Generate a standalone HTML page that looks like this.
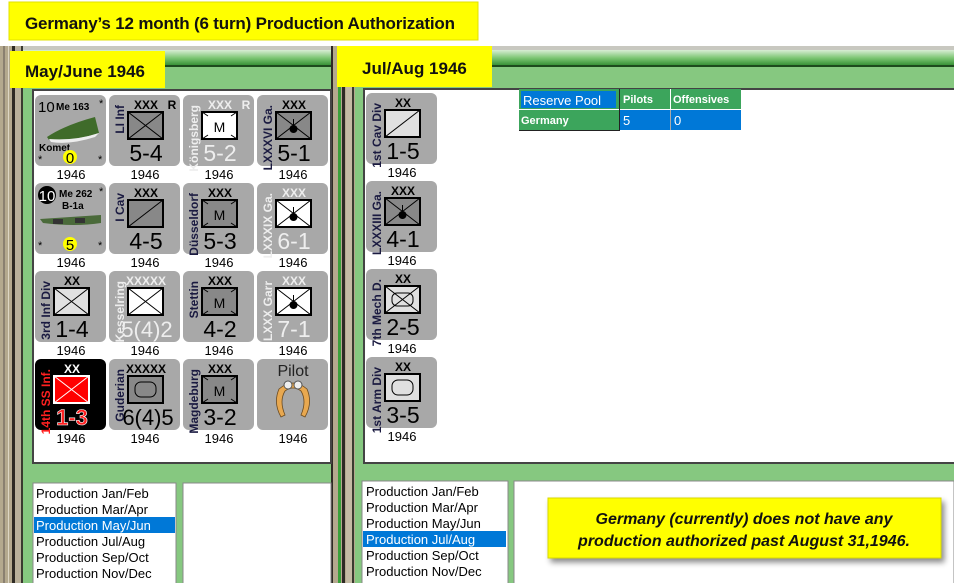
<!DOCTYPE html>
<html><head><meta charset="utf-8"><style>
html,body{margin:0;padding:0;background:#fff;width:954px;height:583px;overflow:hidden}
svg{display:block}
text{font-family:"Liberation Sans",sans-serif}
.vl{font-size:12px}
</style></head><body>
<svg width="954" height="583" viewBox="0 0 954 583" xmlns="http://www.w3.org/2000/svg">
<defs>
<linearGradient id="tb" x1="0" y1="0" x2="0" y2="1">
<stop offset="0" stop-color="#d8eed4"/><stop offset="0.5" stop-color="#7cc673"/><stop offset="1" stop-color="#2f8a2f"/>
</linearGradient>
<filter id="sh" x="-5%" y="-10%" width="115%" height="140%"><feDropShadow dx="3" dy="4" stdDeviation="3" flood-color="#000" flood-opacity="0.45"/></filter>
</defs>
<rect width="954" height="583" fill="#fff"/>
<rect x="0" y="46" width="954" height="537" fill="#86c880"/>
<rect x="0" y="46" width="954" height="6" fill="#c8c8c0"/>
<rect x="0" y="50" width="954" height="16" fill="url(#tb)"/>
<rect x="0" y="65" width="954" height="2" fill="#1d4a1d"/>
<rect x="0" y="46" width="12" height="537" fill="#b4a98e"/>
<rect x="3" y="46" width="2" height="537" fill="#8a8070"/>
<rect x="8" y="46" width="1" height="537" fill="#ddd6c4"/>
<rect x="12" y="46" width="3" height="537" fill="#2e2a24"/>
<rect x="15" y="46" width="6" height="537" fill="#b9b09a"/>
<rect x="21" y="46" width="2" height="537" fill="#3a3a30"/>
<rect x="23" y="66" width="9" height="517" fill="#86c880"/>
<rect x="331" y="46" width="32" height="537" fill="#b4a98e"/>
<rect x="331" y="46" width="2" height="537" fill="#2e2a24"/>
<rect x="338" y="46" width="3" height="537" fill="#3aa03a"/>
<rect x="342" y="46" width="3" height="537" fill="#2e2a24"/>
<rect x="346" y="46" width="6" height="537" fill="#c4bba4"/>
<rect x="352" y="46" width="2" height="537" fill="#3a3a30"/>
<rect x="355" y="66" width="8" height="517" fill="#86c880"/>
<rect x="33" y="90" width="298" height="373" fill="#fff" stroke="#444" stroke-width="2"/>
<rect x="364" y="89" width="592" height="374" fill="#fff" stroke="#444" stroke-width="2"/>
<rect x="33" y="483" width="143" height="101" fill="#fff" stroke="#888"/>
<rect x="183" y="483" width="148" height="101" fill="#fff" stroke="#888"/>
<rect x="362" y="481" width="146" height="103" fill="#fff" stroke="#888"/>
<rect x="514" y="481" width="440" height="103" fill="#fff" stroke="#888"/>
<rect x="34" y="517" width="141" height="16" fill="#0078d7"/>
<g font-size="13" fill="#000">
<text x="36" y="498">Production Jan/Feb</text>
<text x="36" y="514">Production Mar/Apr</text>
<text x="36" y="530" fill="#fff">Production May/Jun</text>
<text x="36" y="546">Production Jul/Aug</text>
<text x="36" y="562">Production Sep/Oct</text>
<text x="36" y="578">Production Nov/Dec</text>
</g>
<rect x="363" y="531" width="143" height="16" fill="#0078d7"/>
<g font-size="13" fill="#000">
<text x="366" y="496">Production Jan/Feb</text>
<text x="366" y="512">Production Mar/Apr</text>
<text x="366" y="528">Production May/Jun</text>
<text x="366" y="544" fill="#fff">Production Jul/Aug</text>
<text x="366" y="560">Production Sep/Oct</text>
<text x="366" y="576">Production Nov/Dec</text>
</g>
<rect x="548" y="498" width="393" height="60" fill="#ffff00" stroke="#d8d800" filter="url(#sh)"/>
<g font-size="16" font-weight="bold" font-style="italic" text-anchor="middle" fill="#111">
<text x="744" y="524">Germany (currently) does not have any</text>
<text x="744" y="546">production authorized past August 31,1946.</text>
</g>
<rect x="519" y="89" width="222" height="41" fill="#fff"/>
<rect x="519" y="89" width="100" height="20" fill="#3ca55c"/>
<rect x="521" y="91" width="95" height="17" fill="#0078d7"/>
<rect x="620" y="89" width="50" height="20" fill="#3ca55c"/>
<rect x="671" y="89" width="70" height="20" fill="#3ca55c"/>
<rect x="519" y="110" width="100" height="20" fill="#3ca55c"/>
<rect x="620" y="110" width="121" height="20" fill="#0078d7"/>
<line x1="670.5" y1="110" x2="670.5" y2="130" stroke="#aaa"/>
<line x1="619.5" y1="89" x2="619.5" y2="131" stroke="#222"/>
<line x1="519" y1="130.5" x2="620" y2="130.5" stroke="#222"/>
<text x="523" y="105" font-size="13" fill="#fff">Reserve Pool</text>
<g font-size="11" font-weight="bold" fill="#fff">
<text x="623" y="103">Pilots</text><text x="673" y="103">Offensives</text>
<text x="521" y="124">Germany</text>
</g>
<text x="623" y="125" font-size="13" fill="#fff">5</text>
<text x="674" y="125" font-size="13" fill="#fff">0</text>
<rect x="9" y="2" width="469" height="38" fill="#ffff00" stroke="#e0e000"/>
<text x="25" y="29" font-size="17" font-weight="bold" fill="#111" textLength="430">Germany’s 12 month (6 turn) Production Authorization</text>
<rect x="10" y="51" width="155" height="37" fill="#ffff00"/>
<text x="25" y="77" font-size="17" font-weight="bold" fill="#111">May/June 1946</text>
<rect x="337" y="46" width="155" height="41" fill="#ffff00"/>
<text x="362" y="74" font-size="17" font-weight="bold" fill="#111">Jul/Aug 1946</text>
<g font-size="13" text-anchor="middle" fill="#000">
<text x="71" y="179">1946</text><text x="145" y="179">1946</text><text x="219" y="179">1946</text><text x="293" y="179">1946</text>
<text x="71" y="267">1946</text><text x="145" y="267">1946</text><text x="219" y="267">1946</text><text x="293" y="267">1946</text>
<text x="71" y="355">1946</text><text x="145" y="355">1946</text><text x="219" y="355">1946</text><text x="293" y="355">1946</text>
<text x="71" y="443">1946</text><text x="145" y="443">1946</text><text x="219" y="443">1946</text><text x="293" y="443">1946</text>
<text x="402" y="177">1946</text><text x="402" y="265">1946</text><text x="402" y="353">1946</text><text x="402" y="441">1946</text>
</g>
<g transform="translate(35,95)">
<rect width="71" height="71" rx="6" fill="#a8a8a8"/>
<text x="3" y="17" font-size="15">10</text>
<text x="21" y="15" font-size="10" font-weight="bold">Me 163</text>
<text x="64" y="12" font-size="11">*</text>
<path d="M12 42 Q30 30 60 22 L64 38 Q40 46 14 45 Z" fill="#3f6b2a"/>
<path d="M14 44 Q40 46 64 38 L60 42 Q35 50 16 47Z" fill="#eee"/>
<text x="4" y="56" font-size="10" font-weight="bold">Komet</text>
<text x="3" y="68" font-size="11">*</text><text x="63" y="68" font-size="11">*</text>
<circle cx="35" cy="62" r="7" fill="#ffff00"/>
<text x="35" y="68" font-size="15" text-anchor="middle">0</text>
</g>
<g transform="translate(35,183)">
<rect width="71" height="71" rx="6" fill="#a8a8a8"/>
<circle cx="12" cy="12" r="9" fill="#000"/>
<text x="12" y="18" font-size="15" fill="#fff" text-anchor="middle">10</text>
<text x="24" y="14" font-size="10" font-weight="bold">Me 262</text>
<text x="27" y="26" font-size="10" font-weight="bold">B-1a</text>
<text x="64" y="12" font-size="11">*</text>
<path d="M5 36 L66 32 L66 40 Q40 44 8 40Z" fill="#4a6a3a"/>
<rect x="18" y="36" width="10" height="5" fill="#333"/><rect x="40" y="35" width="10" height="5" fill="#333"/>
<text x="3" y="66" font-size="11">*</text><text x="63" y="66" font-size="11">*</text>
<circle cx="35" cy="61" r="7" fill="#ffff00"/>
<text x="35" y="67" font-size="15" text-anchor="middle">5</text>
</g>
<g transform="translate(109,95)">
<rect width="71" height="71" rx="6" fill="#a8a8a8"/>
<text x="37" y="14" font-size="12" font-weight="bold" text-anchor="middle">XXX</text>
<text x="63" y="14" font-size="12" font-weight="bold" text-anchor="middle">R</text>
<rect x="19" y="17" width="35" height="27" fill="#888" stroke="#000" stroke-width="2"/>
<path d="M19 17L54 44M54 17L19 44" stroke="#000"/>
<text x="37" y="66" font-size="23" text-anchor="middle">5-4</text>
<text class="vl" transform="translate(15,10) rotate(-90)" font-weight="bold" text-anchor="end" fill="#1a1a40">LI Inf</text>
</g>
<g transform="translate(183,95)">
<rect width="71" height="71" rx="6" fill="#a8a8a8"/>
<text x="37" y="14" font-size="12" font-weight="bold" text-anchor="middle" fill="#eee">XXX</text>
<text x="63" y="14" font-size="12" font-weight="bold" text-anchor="middle" fill="#eee">R</text>
<rect x="19" y="17" width="35" height="27" fill="#fff" stroke="#000" stroke-width="2"/>
<path d="M19 17L25 21M54 17L48 21M19 44L25 40M54 44L48 40" stroke="#000"/>
<text x="36.5" y="37" font-size="14" text-anchor="middle">M</text>
<text x="37" y="66" font-size="23" text-anchor="middle" fill="#eee">5-2</text>
<text class="vl" transform="translate(15,10) rotate(-90)" font-weight="bold" text-anchor="end" fill="#eee">Königsberg</text>
</g>
<g transform="translate(257,95)">
<rect width="71" height="71" rx="6" fill="#a8a8a8"/>
<text x="37" y="14" font-size="12" font-weight="bold" text-anchor="middle">XXX</text>
<rect x="19" y="17" width="35" height="27" fill="#888" stroke="#000" stroke-width="2"/>
<path d="M19 17L54 44M54 17L19 44M36.5 24V34" stroke="#000"/>
<circle cx="36.5" cy="34" r="4"/>
<text x="37" y="66" font-size="23" text-anchor="middle">5-1</text>
<text class="vl" transform="translate(15,10) rotate(-90)" font-weight="bold" text-anchor="end" fill="#1a1a40">LXXXVI Ga.</text>
</g>
<g transform="translate(109,183)">
<rect width="71" height="71" rx="6" fill="#a8a8a8"/>
<text x="37" y="14" font-size="12" font-weight="bold" text-anchor="middle">XXX</text>
<rect x="19" y="17" width="35" height="27" fill="#888" stroke="#000" stroke-width="2"/>
<path d="M19 44L54 17" stroke="#000"/>
<text x="37" y="66" font-size="23" text-anchor="middle">4-5</text>
<text class="vl" transform="translate(15,10) rotate(-90)" font-weight="bold" text-anchor="end" fill="#1a1a40">I Cav</text>
</g>
<g transform="translate(183,183)">
<rect width="71" height="71" rx="6" fill="#a8a8a8"/>
<text x="37" y="14" font-size="12" font-weight="bold" text-anchor="middle">XXX</text>
<rect x="19" y="17" width="35" height="27" fill="#888" stroke="#000" stroke-width="2"/>
<path d="M19 17L25 21M54 17L48 21M19 44L25 40M54 44L48 40" stroke="#000"/>
<text x="36.5" y="37" font-size="14" text-anchor="middle">M</text>
<text x="37" y="66" font-size="23" text-anchor="middle">5-3</text>
<text class="vl" transform="translate(15,10) rotate(-90)" font-weight="bold" text-anchor="end" fill="#1a1a40">Düsseldorf</text>
</g>
<g transform="translate(257,183)">
<rect width="71" height="71" rx="6" fill="#a8a8a8"/>
<text x="37" y="14" font-size="12" font-weight="bold" text-anchor="middle" fill="#eee">XXX</text>
<rect x="19" y="17" width="35" height="27" fill="#fff" stroke="#000" stroke-width="2"/>
<path d="M19 17L54 44M54 17L19 44M36.5 24V34" stroke="#000"/>
<circle cx="36.5" cy="34" r="4"/>
<text x="37" y="66" font-size="23" text-anchor="middle" fill="#eee">6-1</text>
<text class="vl" transform="translate(15,10) rotate(-90)" font-weight="bold" text-anchor="end" fill="#eee">LXXXIX Ga.</text>
</g>
<g transform="translate(35,271)">
<rect width="71" height="71" rx="6" fill="#a8a8a8"/>
<text x="37" y="14" font-size="12" font-weight="bold" text-anchor="middle">XX</text>
<rect x="19" y="17" width="35" height="27" fill="#e0e0e0" stroke="#000" stroke-width="2"/>
<path d="M19 17L54 44M54 17L19 44" stroke="#000"/>
<text x="37" y="66" font-size="23" text-anchor="middle">1-4</text>
<text class="vl" transform="translate(15,10) rotate(-90)" font-weight="bold" text-anchor="end" fill="#1a1a40">3rd Inf Div</text>
</g>
<g transform="translate(109,271)">
<rect width="71" height="71" rx="6" fill="#a8a8a8"/>
<text x="37" y="14" font-size="12" font-weight="bold" text-anchor="middle" fill="#eee">XXXXX</text>
<rect x="19" y="17" width="35" height="27" fill="#fff" stroke="#000" stroke-width="2"/>
<path d="M19 17L54 44M54 17L19 44" stroke="#000"/>
<text x="38" y="66" font-size="22" text-anchor="middle" fill="#eee">5(4)2</text>
<text class="vl" transform="translate(15,10) rotate(-90)" font-weight="bold" text-anchor="end" fill="#eee">Kesselring</text>
</g>
<g transform="translate(183,271)">
<rect width="71" height="71" rx="6" fill="#a8a8a8"/>
<text x="37" y="14" font-size="12" font-weight="bold" text-anchor="middle">XXX</text>
<rect x="19" y="17" width="35" height="27" fill="#888" stroke="#000" stroke-width="2"/>
<path d="M19 17L25 21M54 17L48 21M19 44L25 40M54 44L48 40" stroke="#000"/>
<text x="36.5" y="37" font-size="14" text-anchor="middle">M</text>
<text x="37" y="66" font-size="23" text-anchor="middle">4-2</text>
<text class="vl" transform="translate(15,10) rotate(-90)" font-weight="bold" text-anchor="end" fill="#1a1a40">Stettin</text>
</g>
<g transform="translate(257,271)">
<rect width="71" height="71" rx="6" fill="#a8a8a8"/>
<text x="37" y="14" font-size="12" font-weight="bold" text-anchor="middle" fill="#eee">XXX</text>
<rect x="19" y="17" width="35" height="27" fill="#fff" stroke="#000" stroke-width="2"/>
<path d="M19 17L54 44M54 17L19 44M36.5 24V34" stroke="#000"/>
<circle cx="36.5" cy="34" r="4"/>
<text x="37" y="66" font-size="23" text-anchor="middle" fill="#eee">7-1</text>
<text class="vl" transform="translate(15,10) rotate(-90)" font-weight="bold" text-anchor="end" fill="#eee">LXXX Garr</text>
</g>
<g transform="translate(35,359)">
<rect width="71" height="71" rx="6" fill="#000"/>
<text x="37" y="14" font-size="12" font-weight="bold" text-anchor="middle" fill="#fff">XX</text>
<rect x="19" y="17" width="35" height="27" fill="#ff0000" stroke="#fff" stroke-width="2"/>
<path d="M19 17L54 44M54 17L19 44" stroke="#fff"/>
<text x="37" y="66" font-size="22" font-weight="bold" text-anchor="middle" fill="#ff2020" stroke="#fff" stroke-width="0.6">1-3</text>
<text class="vl" transform="translate(15,10) rotate(-90)" font-weight="bold" text-anchor="end" fill="#ff2020">14th SS Inf.</text>
</g>
<g transform="translate(109,359)">
<rect width="71" height="71" rx="6" fill="#a8a8a8"/>
<text x="37" y="14" font-size="12" font-weight="bold" text-anchor="middle">XXXXX</text>
<rect x="19" y="17" width="35" height="27" fill="#888" stroke="#000" stroke-width="2"/>
<rect x="26" y="23" width="21" height="15" rx="6" fill="none" stroke="#000"/>
<text x="39" y="66" font-size="22" text-anchor="middle">6(4)5</text>
<text class="vl" transform="translate(15,10) rotate(-90)" font-weight="bold" text-anchor="end" fill="#1a1a40">Guderian</text>
</g>
<g transform="translate(183,359)">
<rect width="71" height="71" rx="6" fill="#a8a8a8"/>
<text x="37" y="14" font-size="12" font-weight="bold" text-anchor="middle">XXX</text>
<rect x="19" y="17" width="35" height="27" fill="#888" stroke="#000" stroke-width="2"/>
<path d="M19 17L25 21M54 17L48 21M19 44L25 40M54 44L48 40" stroke="#000"/>
<text x="36.5" y="37" font-size="14" text-anchor="middle">M</text>
<text x="37" y="66" font-size="23" text-anchor="middle">3-2</text>
<text class="vl" transform="translate(15,10) rotate(-90)" font-weight="bold" text-anchor="end" fill="#1a1a40">Magdeburg</text>
</g>
<g transform="translate(257,359)">
<rect width="71" height="71" rx="6" fill="#a8a8a8"/>
<text x="36" y="17" font-size="16" text-anchor="middle" fill="#222">Pilot</text>
<path d="M22 30 Q36 18 50 30 Q56 44 48 58 L44 56 Q50 42 44 32 Q36 26 28 32 Q22 42 28 56 L24 58 Q16 44 22 30Z" fill="#e8a850" stroke="#6a4a20" stroke-width="0.8"/>
<circle cx="31" cy="26" r="4" fill="#eee" stroke="#555"/><circle cx="41" cy="26" r="4" fill="#eee" stroke="#555"/>
</g>
<g transform="translate(366,93)">
<rect width="71" height="71" rx="6" fill="#a8a8a8"/>
<text x="37" y="14" font-size="12" font-weight="bold" text-anchor="middle">XX</text>
<rect x="19" y="17" width="35" height="27" fill="#e0e0e0" stroke="#000" stroke-width="2"/>
<path d="M19 44L54 17" stroke="#000"/>
<text x="37" y="66" font-size="23" text-anchor="middle">1-5</text>
<text class="vl" transform="translate(15,10) rotate(-90)" font-weight="bold" text-anchor="end" fill="#1a1a40">1st Cav Div</text>
</g>
<g transform="translate(366,181)">
<rect width="71" height="71" rx="6" fill="#a8a8a8"/>
<text x="37" y="14" font-size="12" font-weight="bold" text-anchor="middle">XXX</text>
<rect x="19" y="17" width="35" height="27" fill="#888" stroke="#000" stroke-width="2"/>
<path d="M19 17L54 44M54 17L19 44M36.5 24V34" stroke="#000"/>
<circle cx="36.5" cy="34" r="4"/>
<text x="37" y="66" font-size="23" text-anchor="middle">4-1</text>
<text class="vl" transform="translate(15,10) rotate(-90)" font-weight="bold" text-anchor="end" fill="#1a1a40">LXXXIII Ga.</text>
</g>
<g transform="translate(366,269)">
<rect width="71" height="71" rx="6" fill="#a8a8a8"/>
<text x="37" y="14" font-size="12" font-weight="bold" text-anchor="middle">XX</text>
<rect x="19" y="17" width="35" height="27" fill="#e0e0e0" stroke="#000" stroke-width="2"/>
<path d="M19 17L54 44M54 17L19 44" stroke="#000"/>
<rect x="26" y="24" width="21" height="13" rx="5" fill="none" stroke="#000"/>
<text x="37" y="66" font-size="23" text-anchor="middle">2-5</text>
<text class="vl" transform="translate(15,10) rotate(-90)" font-weight="bold" text-anchor="end" fill="#1a1a40">7th Mech D.</text>
</g>
<g transform="translate(366,357)">
<rect width="71" height="71" rx="6" fill="#a8a8a8"/>
<text x="37" y="14" font-size="12" font-weight="bold" text-anchor="middle">XX</text>
<rect x="19" y="17" width="35" height="27" fill="#e0e0e0" stroke="#000" stroke-width="2"/>
<rect x="26" y="23" width="21" height="15" rx="6" fill="none" stroke="#000"/>
<text x="37" y="66" font-size="23" text-anchor="middle">3-5</text>
<text class="vl" transform="translate(15,10) rotate(-90)" font-weight="bold" text-anchor="end" fill="#1a1a40">1st Arm Div</text>
</g>
</svg>
</body></html>
